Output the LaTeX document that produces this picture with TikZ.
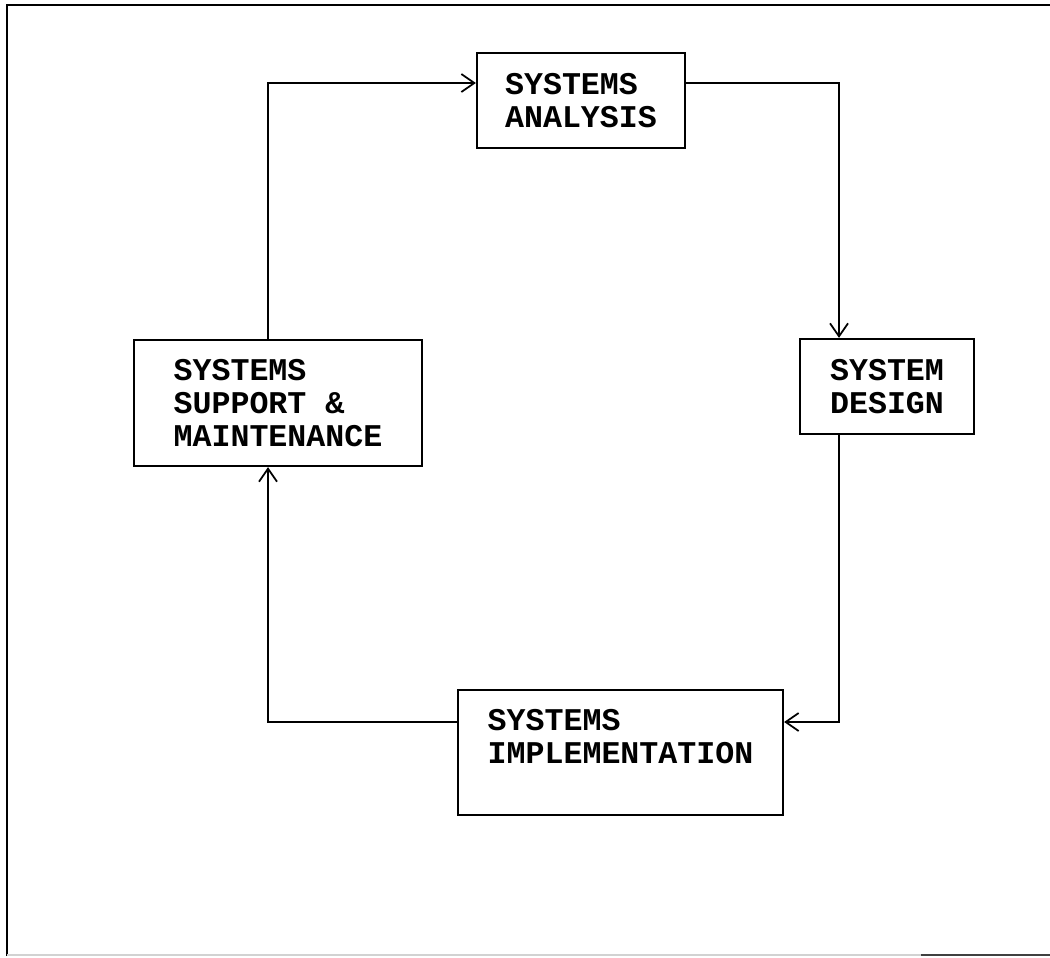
\documentclass[tikz,border=0pt]{standalone}
\usepackage{fontspec}
\newfontfamily\boxfont{Liberation Mono}
\usetikzlibrary{arrows.meta}

\begin{document}
\begin{tikzpicture}[x=0.02cm,y=-0.02cm,->,>={Straight Barb[length=2.6mm,width=3.6mm]},
  line width=1pt,stage/.style={rectangle,draw,line width=1.3pt,align=left,inner sep=0pt,
  font=\boxfont\bfseries\fontsize{18}{18.7}\selectfont}]

  \useasboundingbox (0,0) rectangle (1050,957);
  \draw[-,line width=1.6pt] (7,956) -- (7,5) -- (1050,5);
  \draw[-,gray!35] (7,955) -- (921,955);
  \draw[-,line width=1pt,black!75] (921,955) -- (1050,955);

  \node[stage,minimum width=4.16cm,minimum height=1.9cm] (sa) at (581,100.5) {SYSTEMS\\ANALYSIS};
  \node[stage,minimum width=3.48cm,minimum height=1.9cm] (sd) at (887,386.5) {SYSTEM\\DESIGN};
  \node[stage,minimum width=6.5cm,minimum height=2.5cm] (si) at (620.5,752.5) {SYSTEMS\\IMPLEMENTATION\\~};
  \node[stage,minimum width=5.76cm,minimum height=2.52cm] (ss) at (278,403) {SYSTEMS\\SUPPORT \&\\MAINTENANCE\hspace{0.4cm}};

  \draw ([xshift=-2mm]ss.north) |- ([yshift=3.5mm]sa.west);
  \draw ([yshift=3.5mm]sa.east) -| ([xshift=-9.6mm]sd.north);
  \draw ([xshift=-9.6mm]sd.south) |- ([yshift=6.1mm]si.east);
  \draw ([yshift=6.1mm]si.west) -| ([xshift=-2mm]ss.south);
\end{tikzpicture}
\end{document}
